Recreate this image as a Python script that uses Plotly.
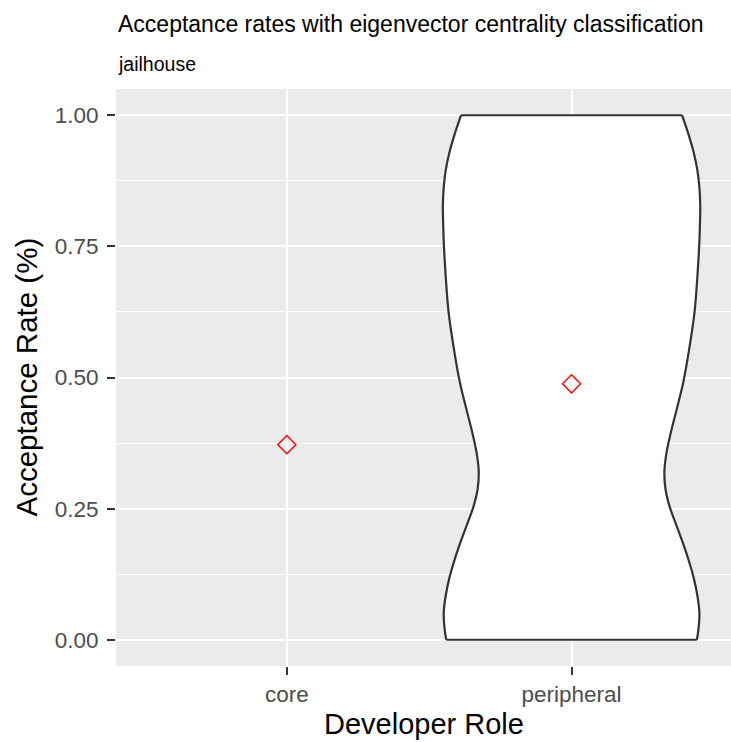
import plotly.graph_objects as go

# Developer roles on the x axis
roles = ["core", "peripheral"]
role_pos = [1, 2]

# Mean acceptance rate per role
mean_rate = [0.372, 0.488]

# Violin outline for the peripheral group: acceptance rate and half-width (x units)
violin_rate = [1.0, 0.963, 0.929, 0.895, 0.862, 0.828, 0.794, 0.760, 0.693, 0.625,
               0.557, 0.490, 0.456, 0.422, 0.389, 0.355, 0.321, 0.287, 0.253, 0.220,
               0.186, 0.152, 0.118, 0.084, 0.051, 0.017, 0.0]
violin_half = [0.388, 0.411, 0.429, 0.442, 0.449, 0.452, 0.451, 0.449, 0.442, 0.432,
               0.414, 0.392, 0.377, 0.361, 0.346, 0.333, 0.326, 0.330, 0.345, 0.367,
               0.390, 0.411, 0.429, 0.442, 0.449, 0.445, 0.440]

y_ticks = [0.0, 0.25, 0.5, 0.75, 1.0]
y_tick_text = ["0.00", "0.25", "0.50", "0.75", "1.00"]

FONT = "Liberation Sans, Arial, sans-serif"
OUTLINE = dict(color="#333333", width=2.2)

center = role_pos[1]
left_x = [center - h for h in violin_half]
right_x = [center + h for h in violin_half]

fig = go.Figure()
# white body of the violin
fig.add_trace(go.Scatter(
    x=left_x + right_x[::-1] + [left_x[0]],
    y=list(violin_rate) + list(violin_rate)[::-1] + [violin_rate[0]],
    mode="lines", fill="toself", fillcolor="white", line=dict(width=0),
    hoverinfo="skip", showlegend=False,
))
# smooth outline on both sides, straight caps at the data range limits
for side_x in (left_x, right_x):
    fig.add_trace(go.Scatter(
        x=side_x, y=violin_rate, mode="lines", line=dict(shape="spline", **OUTLINE),
        hoverinfo="skip", showlegend=False,
    ))
for idx in (0, -1):
    fig.add_trace(go.Scatter(
        x=[left_x[idx], right_x[idx]], y=[violin_rate[idx], violin_rate[idx]],
        mode="lines", line=OUTLINE, hoverinfo="skip", showlegend=False,
    ))
fig.add_trace(go.Scatter(
    x=role_pos, y=mean_rate, mode="markers",
    marker=dict(symbol="diamond-open", size=14, color="red", line=dict(width=1.4, color="red")),
    showlegend=False,
))

fig.update_layout(
    width=731, height=742,
    margin=dict(l=116, r=0, t=89, b=76),
    paper_bgcolor="white", plot_bgcolor="#EBEBEB",
    font=dict(family=FONT),
    annotations=[
        dict(text="Acceptance rates with eigenvector centrality classification",
             xref="paper", yref="paper", x=0, y=1, xanchor="left", yanchor="middle",
             yshift=65, showarrow=False, font=dict(size=23, color="black")),
        dict(text="jailhouse", xref="paper", yref="paper", x=0, y=1,
             xanchor="left", yanchor="middle", yshift=25, showarrow=False,
             font=dict(size=19.5, color="black")),
        dict(text="Developer Role", xref="paper", yref="paper", x=0.5, y=0,
             xanchor="center", yanchor="middle", yshift=-58, showarrow=False,
             font=dict(size=29, color="black")),
        dict(text="Acceptance Rate (%)", xref="paper", yref="paper", x=0, y=0.5,
             xanchor="center", yanchor="middle", xshift=-90, textangle=-90,
             showarrow=False, font=dict(size=29.5, color="black")),
    ],
)

fig.update_xaxes(
    range=[0.4, 2.56], tickvals=role_pos, ticktext=roles,
    showgrid=True, gridcolor="white", gridwidth=2, zeroline=False,
    ticks="outside", ticklen=8, tickwidth=2, tickcolor="#333333",
    tickfont=dict(size=22.5, color="#4D4D4D"), showline=False,
)
fig.update_yaxes(
    range=[-0.05, 1.05], tickvals=y_ticks, ticktext=y_tick_text,
    showgrid=True, gridcolor="white", gridwidth=2, zeroline=False,
    ticks="outside", ticklen=8, tickwidth=2, tickcolor="#333333",
    tickfont=dict(size=22.5, color="#4D4D4D"), showline=False,
    ticklabelstandoff=4,
    minor=dict(tickvals=[0.125, 0.375, 0.625, 0.875], showgrid=True,
               gridcolor="white", gridwidth=1, ticks=""),
)

fig.write_html("out.html")
